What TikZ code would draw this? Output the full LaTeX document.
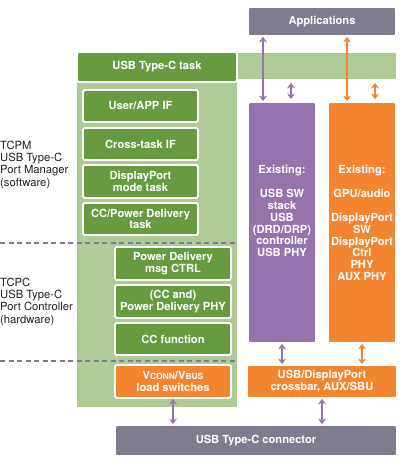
\documentclass[tikz,border=0pt]{standalone}
\usepackage{fontspec}
\setmainfont{TeX Gyre Heros}
\usetikzlibrary{positioning,arrows.meta,shadows}
\definecolor{dkgreen}{HTML}{669B3F}
\definecolor{ltgreen}{HTML}{AECB96}
\definecolor{usbpurple}{HTML}{9573AE}
\definecolor{dporange}{HTML}{F38430}
\definecolor{appgray}{HTML}{7F7C8F}
\definecolor{labelgray}{HTML}{231F20}
\begin{document}
\begin{tikzpicture}[x=1bp, y=-1bp,
    box/.style={draw=white, line width=1.8bp, rounded corners=2bp, text=white, align=center, inner sep=0pt,
      font=\fontsize{11.2}{11.8}\selectfont\bfseries,
      drop shadow={opacity=0.2, shadow xshift=0.6bp, shadow yshift=-0.8bp}},
    gbox/.style={box, fill=dkgreen},
    obox/.style={box, fill=dporange},
    pbox/.style={box, fill=usbpurple},
    abox/.style={box, fill=appgray},
    coltext/.style={text=white, align=center, inner sep=0pt, font=\fontsize{11.2}{11.9}\selectfont\bfseries},
    side/.style={anchor=north west, align=left, inner sep=0pt, text=labelgray, font=\fontsize{11.3}{12.2}\selectfont},
    sepline/.style={appgray, line width=2bp, dash pattern=on 5bp off 3.5bp},
    parr/.style={usbpurple, line width=1.8bp, {Stealth[length=5.5bp,width=8bp]}-{Stealth[length=5.5bp,width=8bp]}},
    oarr/.style={dporange, line width=1.8bp, {Stealth[length=5.5bp,width=8bp]}-{Stealth[length=5.5bp,width=8bp]}}]
  \useasboundingbox (0,0) rectangle (406,468);
  % light green background
  \fill[ltgreen] (77,53) rectangle (396,79);
  \fill[ltgreen] (77,53) rectangle (237,407);
  % layer separators
  \draw[sepline] (0,243) -- (237,243);
  \draw[sepline] (0,361) -- (237,361);
  % side labels
  \node[side] (tcpm) at (0,141) {TCPM\\USB Type-C\\Port Manager\\(software)};
  \node[side] (tcpc) at (0,278) {TCPC\\USB Type-C\\Port Controller\\(hardware)};
  % boxes
  \node[abox, minimum width=148bp, minimum height=29bp] (apps) at (322,21.5) {Applications};
  \node[gbox, minimum width=160bp, minimum height=30bp] (task) at (157,67) {USB Type-C task};
  \node[gbox, minimum width=115bp, minimum height=32bp] (userif) at (140.5,106) {User/APP IF};
  \node[gbox, minimum width=115bp, minimum height=32bp] (crossif) at (140.5,144) {Cross-task IF};
  \node[gbox, minimum width=115bp, minimum height=33bp] (dpmode) at (140.5,181.5) {DisplayPort\\mode task};
  \node[gbox, minimum width=115bp, minimum height=32bp] (cctask) at (140.5,219) {CC/Power Delivery\\task};
  \node[gbox, minimum width=116bp, minimum height=33bp] (pdmsg) at (173,263.5) {Power Delivery\\msg CTRL};
  \node[gbox, minimum width=116bp, minimum height=33bp] (pdphy) at (173,301.5) {(CC and)\\Power Delivery PHY};
  \node[gbox, minimum width=116bp, minimum height=32bp] (ccfun) at (173,339) {CC function};
  \node[obox, minimum width=116bp, minimum height=33bp] (vconn) at (173,381.5)
    {V{\fontsize{8.5}{8}\selectfont CONN}/V{\fontsize{8.5}{8}\selectfont BUS}\\load switches};
  \node[obox, minimum width=150bp, minimum height=33bp] (xbar) at (322,381.5) {USB/DisplayPort\\crossbar, AUX/SBU};
  \node[abox, minimum width=282bp, minimum height=31bp] (conn) at (256,440.5) {USB Type-C connector};
  % existing columns
  \node[pbox, minimum width=68bp, minimum height=241bp] (usbcol) at (282,222.5) {};
  \node[obox, minimum width=68bp, minimum height=241bp] (dpcol) at (362,222.5) {};
  \node[coltext, below=64bp of usbcol.north] (usbtext)
    {Existing:\\[12bp]USB SW\\stack\\USB\\(DRD/DRP)\\controller\\USB PHY};
  \node[coltext, below=64bp of dpcol.north] (dptext)
    {Existing:\\[12bp]GPU/audio\\[12bp]DisplayPort\\SW\\DisplayPort\\Ctrl\\PHY\\AUX PHY};
  % connectors
  \draw[parr] ([xshift=-19bp]usbcol.north) -- ([xshift=-19bp]usbcol.north |- apps.south);
  \draw[parr, shorten <=2bp] ([xshift=9bp]usbcol.north) -- ([xshift=9bp]usbcol.north |- task.south);
  \draw[oarr] ([xshift=-15bp]dpcol.north) -- ([xshift=-15bp]dpcol.north |- apps.south);
  \draw[oarr, shorten <=2bp] ([xshift=13bp]dpcol.north) -- ([xshift=13bp]dpcol.north |- task.south);
  \draw[parr] (usbcol.south) -- (usbcol.south |- xbar.north);
  \draw[oarr] (dpcol.south) -- (dpcol.south |- xbar.north);
  \draw[parr] (vconn.south) -- (vconn.south |- conn.north);
  \draw[parr] (xbar.south) -- (xbar.south |- conn.north);
\end{tikzpicture}
\end{document}
